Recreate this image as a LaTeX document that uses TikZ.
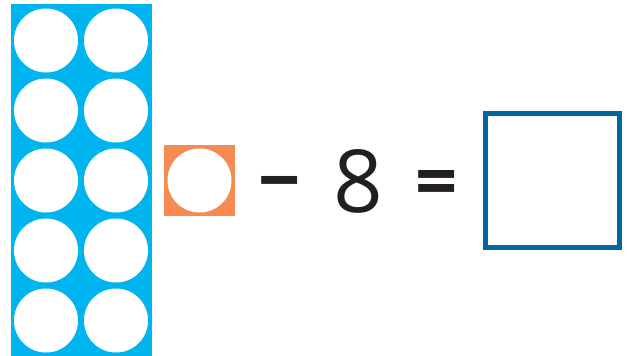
\documentclass[tikz,border=0pt]{standalone}
\usepackage{fontspec}
\setmainfont{Open Sans}
\definecolor{tenblue}{RGB}{0,181,239}
\definecolor{oneorange}{RGB}{246,139,82}
\definecolor{boxblue}{RGB}{0,103,158}
\definecolor{ink}{RGB}{35,31,32}
\begin{document}
\begin{tikzpicture}[x=1pt,y=-1pt,
  counter/.style={circle,fill=white,minimum size=64pt,inner sep=0pt},
  sym/.style={text=ink,inner sep=0pt,anchor=base,font=\fontsize{87}{87}\selectfont},
  op/.style={text=ink,inner sep=0pt,anchor=base,font=\bfseries\fontsize{74}{74}\selectfont}]
\useasboundingbox (0,0) rectangle (627,356);
\fill[white] (0,0) rectangle (627,356);
% ten frame
\fill[tenblue] (11,4) rectangle (152,356);
\foreach \r [count=\i] in {0,...,4}{
  \node[counter] (a\i) at (46,{40.5+70*\r}) {};
  \node[counter] (b\i) at (116,{40.5+70*\r}) {};
}
% one
\fill[oneorange] (164,145) rectangle (235,216);
\node[counter] (one) at (199.5,180.5) {};
% equation
\node[op] (minus) at (279.5,206.5) {−};
\node[sym] (eight) at (358.5,212) {8};
\node[op] (eq) at (437,207.5) {=};
\node[draw=boxblue,line width=5.3pt,minimum width=134pt,minimum height=134pt,inner sep=0pt] (ans) at (552.8,180.2) {};
\end{tikzpicture}
\end{document}
